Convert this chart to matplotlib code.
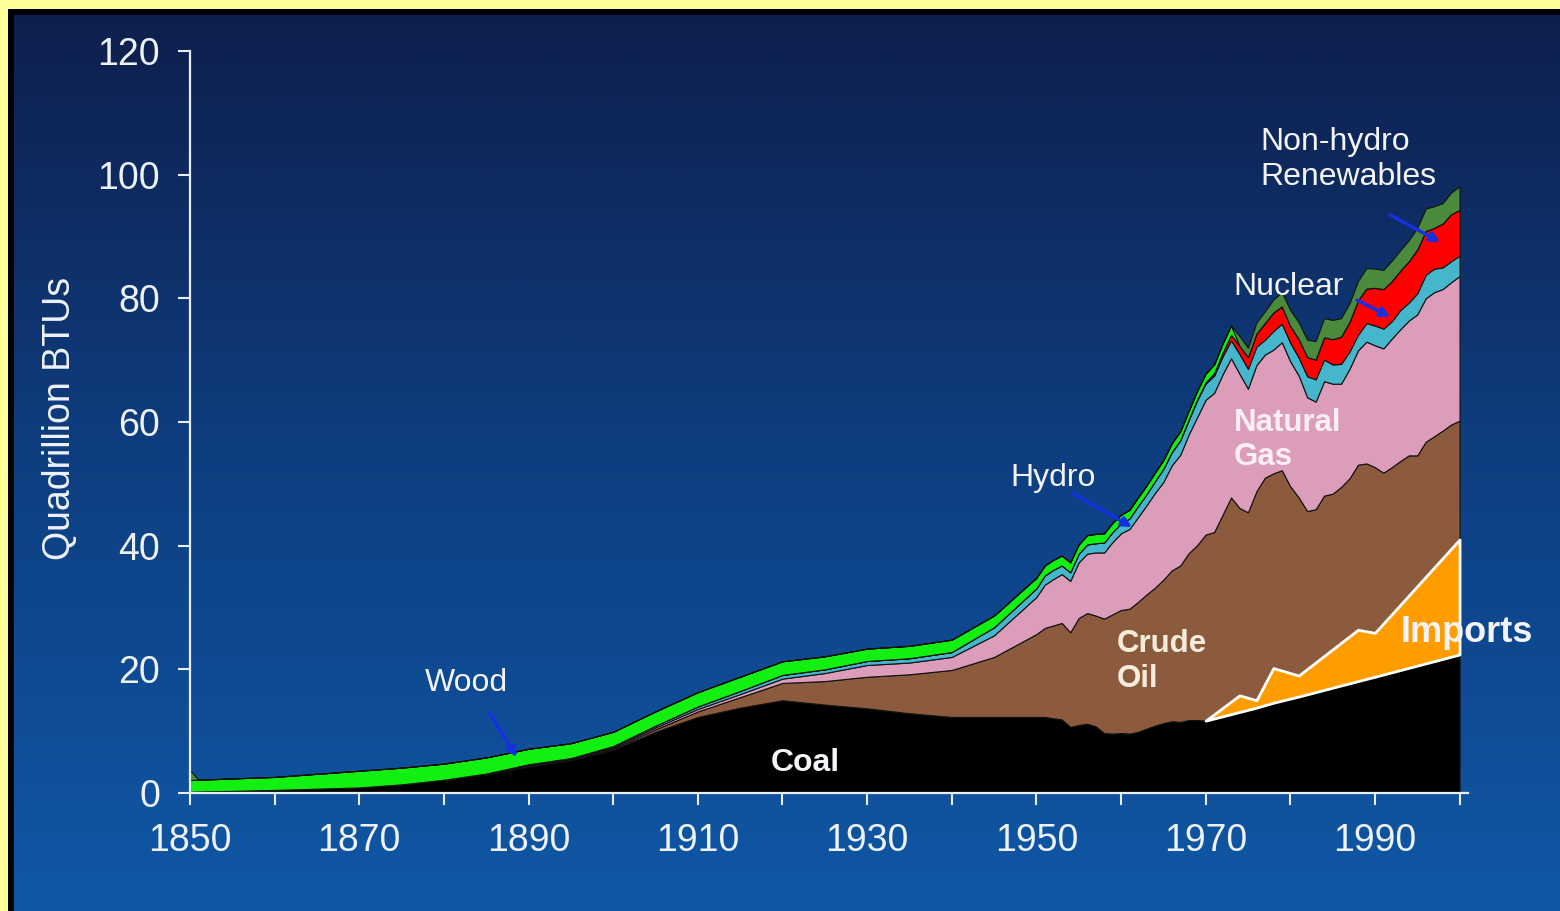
import matplotlib
matplotlib.use("Agg")
import matplotlib.pyplot as plt
import numpy as np
from matplotlib.patches import Rectangle

plt.rcParams["font.family"] = ["Liberation Sans", "DejaVu Sans"]

# 5-yearly history, then annual values (quadrillion BTU)
years = [1850, 1851, 1855, 1860, 1865, 1870, 1875, 1880, 1885, 1890, 1895,
         1900, 1905, 1910, 1915, 1920, 1925, 1930, 1935, 1940, 1945,
         1950, 1951, 1952, 1953, 1954, 1955, 1956, 1957, 1958, 1959,
         1960, 1961, 1962, 1963, 1964, 1965, 1966, 1967, 1968, 1969,
         1970, 1971, 1972, 1973, 1974, 1975, 1976, 1977, 1978, 1979,
         1980, 1981, 1982, 1983, 1984, 1985, 1986, 1987, 1988, 1989,
         1990, 1991, 1992, 1993, 1994, 1995, 1996, 1997, 1998, 1999, 2000]

coal = [0.2, 0.25, 0.35, 0.5, 0.7, 0.9, 1.4, 2.1, 3.0, 4.3, 5.3,
        7.0, 9.9, 12.3, 13.8, 15.0, 14.3, 13.7, 12.9, 12.3, 12.3,
        12.3, 12.3, 12.1, 11.9, 10.7, 11.0, 11.2, 10.8, 9.7, 9.6,
        9.7, 9.6, 9.9, 10.4, 10.9, 11.3, 11.6, 11.5, 11.8, 11.8,
        11.7, 12.1, 12.4, 12.8, 13.1, 13.5, 13.8, 14.2, 14.6, 14.9,
        15.3, 15.6, 16.0, 16.3, 16.7, 17.1, 17.4, 17.8, 18.1, 18.5,
        18.8, 19.2, 19.6, 19.9, 20.3, 20.6, 21.0, 21.3, 21.7, 22.0, 22.4]

crude_oil = [0, 0, 0, 0, 0, 0, 0, 0.05, 0.05, 0.1, 0.1,
             0.2, 0.4, 0.9, 1.7, 2.8, 3.8, 5.1, 6.3, 7.6, 9.7,
             13.4, 14.4, 15.0, 15.6, 15.3, 17.3, 17.9, 17.9, 18.5, 19.3,
             19.9, 20.2, 21.0, 21.7, 22.3, 23.2, 24.4, 25.3, 27.0, 28.3,
             30.1, 30.1, 32.6, 35.0, 33.0, 31.9, 35.0, 36.8, 37.1, 37.3,
             34.3, 32.2, 29.6, 29.6, 31.4, 31.3, 32.1, 33.1, 35.0, 34.8,
             33.9, 32.6, 33.1, 33.8, 34.3, 34.0, 35.8, 36.4, 36.9, 37.6, 37.8]

natural_gas = [0, 0, 0, 0, 0, 0, 0, 0, 0.1, 0.2, 0.15,
               0.2, 0.3, 0.4, 0.5, 0.7, 1.3, 1.9, 1.9, 2.1, 3.5,
               6.0, 7.0, 7.5, 7.9, 8.3, 9.0, 9.6, 10.2, 10.7, 11.7,
               12.4, 12.9, 13.7, 14.4, 15.3, 15.8, 17.0, 17.9, 19.2, 20.7,
               21.8, 22.5, 22.7, 22.5, 21.7, 20.0, 20.4, 19.9, 20.0, 20.7,
               20.2, 19.7, 18.4, 17.4, 18.5, 17.8, 16.7, 17.7, 18.5, 19.7,
               19.7, 20.1, 20.8, 21.3, 21.8, 22.8, 23.2, 23.3, 22.9, 23.0, 23.4]

hydro = [0, 0, 0, 0, 0, 0, 0, 0, 0, 0.05, 0.1,
         0.2, 0.3, 0.4, 0.5, 0.6, 0.6, 0.65, 0.7, 0.8, 1.3,
         1.4, 1.5, 1.5, 1.4, 1.4, 1.4, 1.5, 1.5, 1.6, 1.6,
         1.6, 1.7, 1.8, 1.8, 1.9, 2.1, 2.1, 2.3, 2.3, 2.7,
         2.6, 2.8, 2.9, 2.9, 3.2, 3.2, 3.0, 2.4, 3.0, 3.0,
         3.0, 2.9, 3.4, 3.6, 3.5, 3.1, 3.2, 2.8, 2.5, 3.0,
         3.2, 3.2, 2.8, 3.1, 2.9, 3.4, 3.8, 3.8, 3.5, 3.4, 3.3]

nuclear = [0, 0, 0, 0, 0, 0, 0, 0, 0, 0, 0,
           0, 0, 0, 0, 0, 0, 0, 0, 0, 0,
           0, 0, 0, 0, 0, 0, 0, 0, 0, 0,
           0, 0, 0, 0, 0, 0.04, 0.06, 0.09, 0.14, 0.15,
           0.24, 0.41, 0.58, 0.91, 1.3, 1.9, 2.1, 2.7, 3.0, 2.8,
           2.7, 3.0, 3.1, 3.2, 3.6, 4.1, 4.4, 4.8, 5.6, 5.6,
           6.1, 6.4, 6.5, 6.4, 6.7, 7.1, 7.1, 6.6, 7.1, 7.6, 7.4]

wood = [1.9, 1.9, 2.0, 2.1, 2.4, 2.7, 2.7, 2.6, 2.6, 2.5, 2.4,
        2.3, 2.3, 2.3, 2.3, 2.2, 2.1, 2.0, 2.0, 2.0, 1.9,
        1.7, 1.6, 1.6, 1.6, 1.6, 1.5, 1.5, 1.5, 1.5, 1.5,
        1.4, 1.4, 1.4, 1.4, 1.4, 1.4, 1.4, 1.4, 1.4, 1.4,
        1.4, 1.4, 1.5, 1.5, 0, 0, 0, 0, 0, 0,
        0, 0, 0, 0, 0, 0, 0, 0, 0, 0,
        0, 0, 0, 0, 0, 0, 0, 0, 0, 0, 0]

non_hydro = [1.6, 0, 0, 0, 0, 0, 0, 0, 0, 0, 0,
             0, 0, 0, 0, 0, 0, 0, 0, 0, 0,
             0, 0, 0, 0, 0, 0, 0, 0, 0, 0,
             0, 0, 0, 0, 0, 0, 0, 0, 0, 0,
             0, 0, 0, 0, 1.6, 1.5, 1.8, 1.9, 2.1, 2.3,
             2.6, 2.7, 2.8, 3.0, 3.1, 3.1, 3.0, 3.0, 3.1, 3.3,
             3.1, 3.1, 3.3, 3.3, 3.4, 3.5, 3.6, 3.5, 3.3, 3.5, 3.8]

# imports wedge drawn over the coal / oil layers
imp_years = [1970, 1974, 1976, 1978, 1981, 1988, 1990, 2000]
imp_low = [11.7, 13.1, 13.8, 14.6, 15.6, 18.1, 18.8, 22.4]
imp_high = [11.7, 15.8, 15.0, 20.2, 19.0, 26.4, 25.9, 41.0]

layer_colors = ["#000000", "#8c5a3c", "#dc9dba", "#45b6cc", "#ff0000", "#12f012", "#4a8a3c"]

W, H = 1560, 911
fig = plt.figure(figsize=(W / 100, H / 100), dpi=100, facecolor="#0f4c96")

# background gradient, in pixel coordinates of the whole figure
bg = fig.add_axes([0, 0, 1, 1], zorder=-2)
t = np.linspace(0, 1, 256)[:, None]
top_c = np.array([14, 30, 75]) / 255
mid_c = np.array([14, 62, 128]) / 255
bot_c = np.array([16, 88, 166]) / 255
grad = np.where(t < 0.5, top_c + (mid_c - top_c) * (t / 0.5), mid_c + (bot_c - mid_c) * ((t - 0.5) / 0.5))
bg.imshow(grad[:, None, :].repeat(2, axis=1), aspect="auto", extent=[0, W, H, 0], interpolation="bilinear")
# yellow and black frame on top / left only
bg.add_patch(Rectangle((0, 0), 8, H, color="#ffff99", lw=0))
bg.add_patch(Rectangle((0, 0), W, 9, color="#ffff99", lw=0))
bg.add_patch(Rectangle((8, 9), 6, H, color="black", lw=0))
bg.add_patch(Rectangle((8, 9), W, 6, color="black", lw=0))
bg.set_xlim(0, W)
bg.set_ylim(H, 0)
bg.axis("off")

ax = fig.add_axes([190 / W, 1 - 793 / H, (1468 - 190) / W, (793 - 51) / H])
ax.patch.set_alpha(0)

ax.stackplot(years, coal, crude_oil, natural_gas, hydro, nuclear, wood, non_hydro,
             colors=layer_colors, edgecolor="#111111", linewidth=0.8)
ax.fill_between(imp_years, imp_low, imp_high, facecolor="#ff9c00", edgecolor="white", linewidth=2, zorder=3)

ax.set_xlim(1850, 2001)
ax.set_ylim(0, 120)
ax.set_yticks(range(0, 121, 20))
ax.set_xticks(range(1850, 2001, 10))
ax.set_xticklabels([str(y) if (y - 1850) % 20 == 0 else "" for y in range(1850, 2001, 10)])

for s in ["top", "right"]:
    ax.spines[s].set_visible(False)
for s in ["left", "bottom"]:
    ax.spines[s].set_color("#e8eef8")
    ax.spines[s].set_linewidth(1.6)

ax.tick_params(colors="#e8eef8", labelcolor="#eef2fa", length=8.5, width=1.5, labelsize=27)
ax.tick_params(axis="y", pad=13)
ax.tick_params(axis="x", pad=13)

ax.set_ylabel("Quadrillion BTUs", fontsize=27, color="#eef2fa")
ax.yaxis.set_label_coords(-0.088, 0.505)

white = "#f4f4f8"
ax.text(1922.7, 4.85, "Coal", fontsize=23, fontweight="bold", color=white, ha="center", va="center")
ax.text(1959.5, 21.3, "Crude\nOil", fontsize=22.5, fontweight="bold", color="#f6ecdc", ha="left", va="center", linespacing=1.2)
ax.text(1973.3, 57.1, "Natural\nGas", fontsize=22.5, fontweight="bold", color="#fbeef4", ha="left", va="center", linespacing=1.2)
ax.text(1993.0, 26.0, "Imports", fontsize=26, fontweight="bold", color=white, ha="left", va="center")
ax.text(1946.9, 50.9, "Hydro", fontsize=23, color=white, ha="left", va="center")
ax.text(1877.8, 17.8, "Wood", fontsize=23, color=white, ha="left", va="center")
ax.text(1973.3, 81.8, "Nuclear", fontsize=23, color=white, ha="left", va="center")
ax.text(1976.5, 102.5, "Non-hydro\nRenewables", fontsize=23, color=white, ha="left", va="center", linespacing=1.2)

arrow = dict(arrowstyle="-|>", color="#1530e0", lw=2.5, mutation_scale=14, shrinkA=0, shrinkB=0)
ax.annotate("", xy=(1888.6, 5.8), xytext=(1885.4, 12.9), arrowprops=arrow)
ax.annotate("", xy=(1961.3, 43.0), xytext=(1954.3, 48.5), arrowprops=arrow)
ax.annotate("", xy=(1991.8, 77.0), xytext=(1987.9, 79.7), arrowprops=arrow)
ax.annotate("", xy=(1997.7, 89.1), xytext=(1991.8, 93.5), arrowprops=arrow)

fig.savefig("out.png", dpi=100, facecolor=fig.get_facecolor())
